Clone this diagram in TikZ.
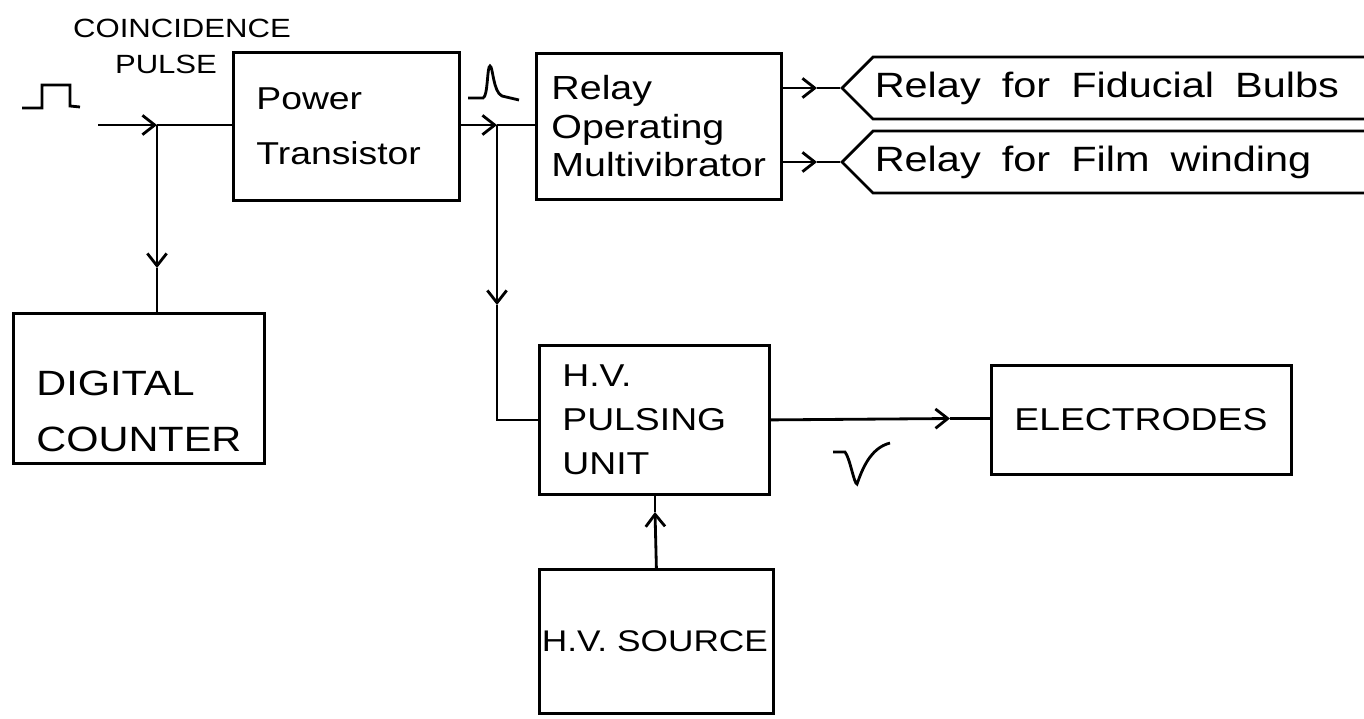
\documentclass[tikz,border=0pt]{standalone}
\usepackage{fontspec}
\setmainfont{Liberation Sans}[FakeStretch=1.18]
\usetikzlibrary{arrows.meta, shapes.symbols, calc}

\begin{document}
\begin{tikzpicture}[x=0.02cm, y=-0.02cm, every text node part/.style={align=left}]

\tikzstyle{box}=[draw, line width=1.6pt, anchor=north west, inner xsep=0.46cm, inner ysep=0pt]
\tikzstyle{arr}=[draw, line width=1.6pt, -{Straight Barb[length=7pt, width=11pt]}]
\tikzstyle{wire}=[draw, line width=1.6pt]
\tikzstyle{relay}=[draw, line width=1.6pt, signal, signal to=west, signal from=nowhere,
  signal pointer angle=90, anchor=west, minimum height=1.24cm, text width=14cm,
  inner xsep=1pt, font=\fontsize{20}{24}\selectfont,
  execute at begin node={\spaceskip=0.6em\relax}]

\useasboundingbox (0,0) rectangle (1364,718);

\node (coinc) [font=\fontsize{15}{18}\selectfont] at (182,28) {COINCIDENCE};
\node (pulse) [font=\fontsize{15}{18}\selectfont] at (166,64) {PULSE};

\node (pt)   [box, text width=3.6cm, minimum height=2.96cm, font=\fontsize{18}{31}\selectfont] at (232,51) {Power\\Transistor};
\node (rom)  [box, inner xsep=0.3cm, text width=4.3cm, minimum height=2.92cm, font=\fontsize{19}{22}\selectfont] at (535,52) {Relay\\Operating\\Multivibrator};
\node (cnt)  [box, text width=4.1cm, minimum height=3cm, font=\fontsize{20}{32}\selectfont] at (12,312) {\mbox{}\\[0.3cm]DIGITAL\\COUNTER};
\node (hvp)  [box, text width=3.68cm, minimum height=2.98cm, font=\fontsize{18}{25}\selectfont] at (538,344) {H.V.\\PULSING\\UNIT};
\node (elec) [box, align=center, text width=5.08cm, minimum height=2.18cm, font=\fontsize{18}{22}\selectfont] at (990,364) {ELECTRODES};
\node (src)  [box, align=center, inner xsep=0.05cm, text width=4.58cm, minimum height=2.88cm, font=\fontsize{17}{20}\selectfont] at (538,568) {H.V. SOURCE};

\node (fid)  [relay] at (840,88)  {Relay for Fiducial Bulbs};
\node (film) [relay] at (840,162) {Relay for Film winding};

% pulse shapes
\draw [line width=1.6pt] (22,108) -- (42,108) -- (42,85) -- (70,85) -- (70,106) -- (80,107);
\draw [line width=1.6pt] (468,98) -- (483,98) .. controls (488,97) and (487,66) .. (490,66)
    .. controls (493,66) and (493,92) .. (502,96) -- (519,100);
\draw [line width=1.6pt] (833,452) -- (845,452) .. controls (850,458) and (854,484) .. (857,484)
    .. controls (862,470) and (870,448) .. (890,443);

\coordinate (pin) at (98,125);
\coordinate (j1)  at (157,125);
\coordinate (m1)  at (157,268);
\coordinate (j2)  at (497,125);
\coordinate (m2)  at (497,305);
\coordinate (m3)  at (655,512);
\coordinate (m4)  at (950,418.5);
\coordinate (m5)  at (817,88);
\coordinate (m6)  at (817,162);

\path [arr]  (pin) -- (j1);
\path [wire] (j1) -- (j1 -| pt.west);
\path [arr]  (j1) -- (m1);
\path [wire] (m1) -- (m1 |- cnt.north);
\path [arr]  (j2 -| pt.east) -- (j2);
\path [wire] (j2) -- (j2 -| rom.west);
\path [arr]  (j2) -- (m2);
\path [wire] (m2) |- (hvp.west);
\path [arr]  (hvp.east) -- (m4);
\path [wire] (m4) -- (m4 -| elec.west);
\path [arr]  (src.north) -- (m3);
\path [wire] (m3) -- (m3 |- hvp.south);
\path [arr]  (rom.east |- m5) -- (m5);
\path [wire] (m5) -- (fid.west);
\path [arr]  (rom.east |- m6) -- (m6);
\path [wire] (m6) -- (film.west);
\end{tikzpicture}
\end{document}
